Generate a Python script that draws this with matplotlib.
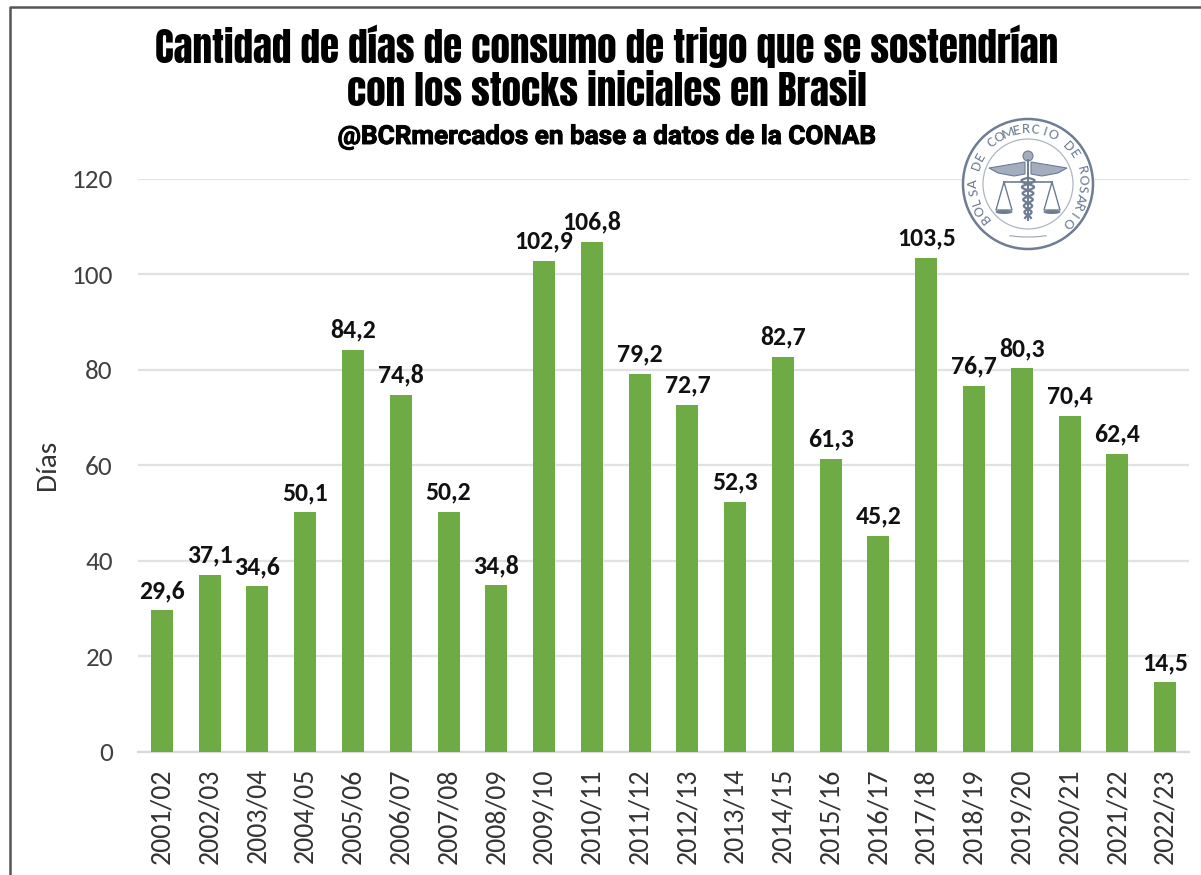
import numpy as np
import matplotlib
matplotlib.use('Agg')
import matplotlib.pyplot as plt
import matplotlib.patheffects as pe
from matplotlib.patches import Circle, Polygon, Ellipse

campanas = ['2001/02', '2002/03', '2003/04', '2004/05', '2005/06', '2006/07', '2007/08', '2008/09',
            '2009/10', '2010/11', '2011/12', '2012/13', '2013/14', '2014/15', '2015/16', '2016/17',
            '2017/18', '2018/19', '2019/20', '2020/21', '2021/22', '2022/23']
dias = [29.6, 37.1, 34.6, 50.1, 84.2, 74.8, 50.2, 34.8, 102.9, 106.8, 79.2, 72.7,
        52.3, 82.7, 61.3, 45.2, 103.5, 76.7, 80.3, 70.4, 62.4, 14.5]
y_ticks = [0, 20, 40, 60, 80, 100, 120]

W, H = 1201, 875
plt.rcParams['font.family'] = ['Carlito', 'Lato', 'DejaVu Sans']
titulo_font = ['Anton', 'Liberation Sans', 'DejaVu Sans']

fig = plt.figure(figsize=(W/100, H/100), dpi=100, facecolor='white')
ax = fig.add_axes([138/W, 1-751.5/H, (1189-138)/W, (751.5-179)/H])

x = np.arange(len(dias))
ax.bar(x, dias, width=0.46, color='#6FAB45', zorder=3)
for xi, d in zip(x, dias):
    ax.annotate(f'{d:.1f}'.replace('.', ','), (xi, d), xytext=(0, 6), textcoords='offset points',
                ha='center', va='bottom', fontsize=18.5, fontweight='bold', color='#111111', zorder=4)

ax.set_xlim(-0.5, len(dias)-0.5)
ax.set_ylim(0, 120)
ax.set_yticks(y_ticks)
ax.set_xticks(x)
ax.set_xticklabels(campanas, rotation=90, fontsize=20, color='#333333')
ax.tick_params(axis='y', length=0, labelsize=19.5, labelcolor='#404040', pad=18)
ax.tick_params(axis='x', length=0, pad=12)
ax.grid(axis='y', color='#E2E2E2', lw=1.6, zorder=0)
ax.set_axisbelow(True)
for s in ['top', 'right', 'left']:
    ax.spines[s].set_visible(False)
ax.spines['bottom'].set_color('#D9D9D9')
ax.spines['bottom'].set_linewidth(1.6)
ax.set_ylabel('Días', fontsize=21, color='#333333')
ax.yaxis.set_label_coords((60-138)/(1189-138), 0.5)

# capa en pixeles para marco, titulos y logo
ov = fig.add_axes([0, 0, 1, 1], facecolor='none')
ov.set_xlim(0, W)
ov.set_ylim(H, 0)
ov.axis('off')
ov.plot([9.5, 9.5, W], [H, 7, 7], color='#555555', lw=1.8)

ov.text(607, 46, 'Cantidad de días de consumo de trigo que se sostendrían', ha='center', va='center',
        fontsize=28.2, color='black', family=titulo_font)
ov.text(607, 92, 'con los stocks iniciales en Brasil', ha='center', va='center',
        fontsize=28.2, color='black', family=titulo_font)
ov.text(607, 137, '@BCRmercados en base a datos de la CONAB', ha='center', va='center',
        fontsize=18.8, fontweight='bold', color='black', family=['Roboto', 'Liberation Sans', 'DejaVu Sans'],
        path_effects=[pe.withStroke(linewidth=0.7, foreground='black')])

# logo
cx, cy = 1028, 184
azul = '#6E7C94'
ov.add_patch(Circle((cx, cy), 65, fc='white', ec=azul, lw=1.8, zorder=5))
ov.add_patch(Circle((cx, cy), 45, fc='none', ec='#AEB6C3', lw=0.9, zorder=6))
leyenda = 'BOLSA DE COMERCIO DE ROSARIO'
angs = np.linspace(218, -44, len(leyenda))
for ch, a in zip(leyenda, angs):
    r = 55
    px = cx + r*np.cos(np.radians(a))
    py = cy - r*np.sin(np.radians(a))
    ov.text(px, py, ch, rotation=a-90, ha='center', va='center', fontsize=11, color=azul,
            rotation_mode='anchor', zorder=7)
# alas
for sgn in (-1, 1):
    ov.add_patch(Polygon([(cx+sgn*3, cy-22), (cx+sgn*39, cy-16), (cx+sgn*30, cy-11), (cx+sgn*14, cy-8), (cx+sgn*3, cy-10)],
                         fc='#A3ADBD', ec=azul, lw=0.8, zorder=6))
    # balanzas
    bx = cx + sgn*24
    ov.plot([bx, bx-8, bx+8, bx], [cy-2, cy+26, cy+26, cy-2], color=azul, lw=1, zorder=6)
    ov.add_patch(Ellipse((bx, cy+28), 17, 4, fc=azul, ec='none', zorder=6))
ov.add_patch(Circle((cx, cy-28), 5, fc='#A3ADBD', ec=azul, lw=0.8, zorder=6))
ov.plot([cx, cx], [cy-24, cy+36], color=azul, lw=1.4, zorder=6)
ov.plot([cx-24, cx+24], [cy-2, cy-2], color=azul, lw=1.2, zorder=6)
t = np.linspace(-6, 34, 80)
ov.plot(cx+7*np.sin(t*0.5)*(1-(t+6)/70), cy+t, color=azul, lw=1.6, zorder=6)
ov.plot(cx-7*np.sin(t*0.5)*(1-(t+6)/70), cy+t, color=azul, lw=1.6, zorder=6)
t = np.linspace(-18, 18, 20)
ov.plot(cx+t, cy+53-0.004*t**2, color='#9AA5B5', lw=0.8, zorder=6)

fig.savefig('out.png', dpi=100, facecolor='white')
